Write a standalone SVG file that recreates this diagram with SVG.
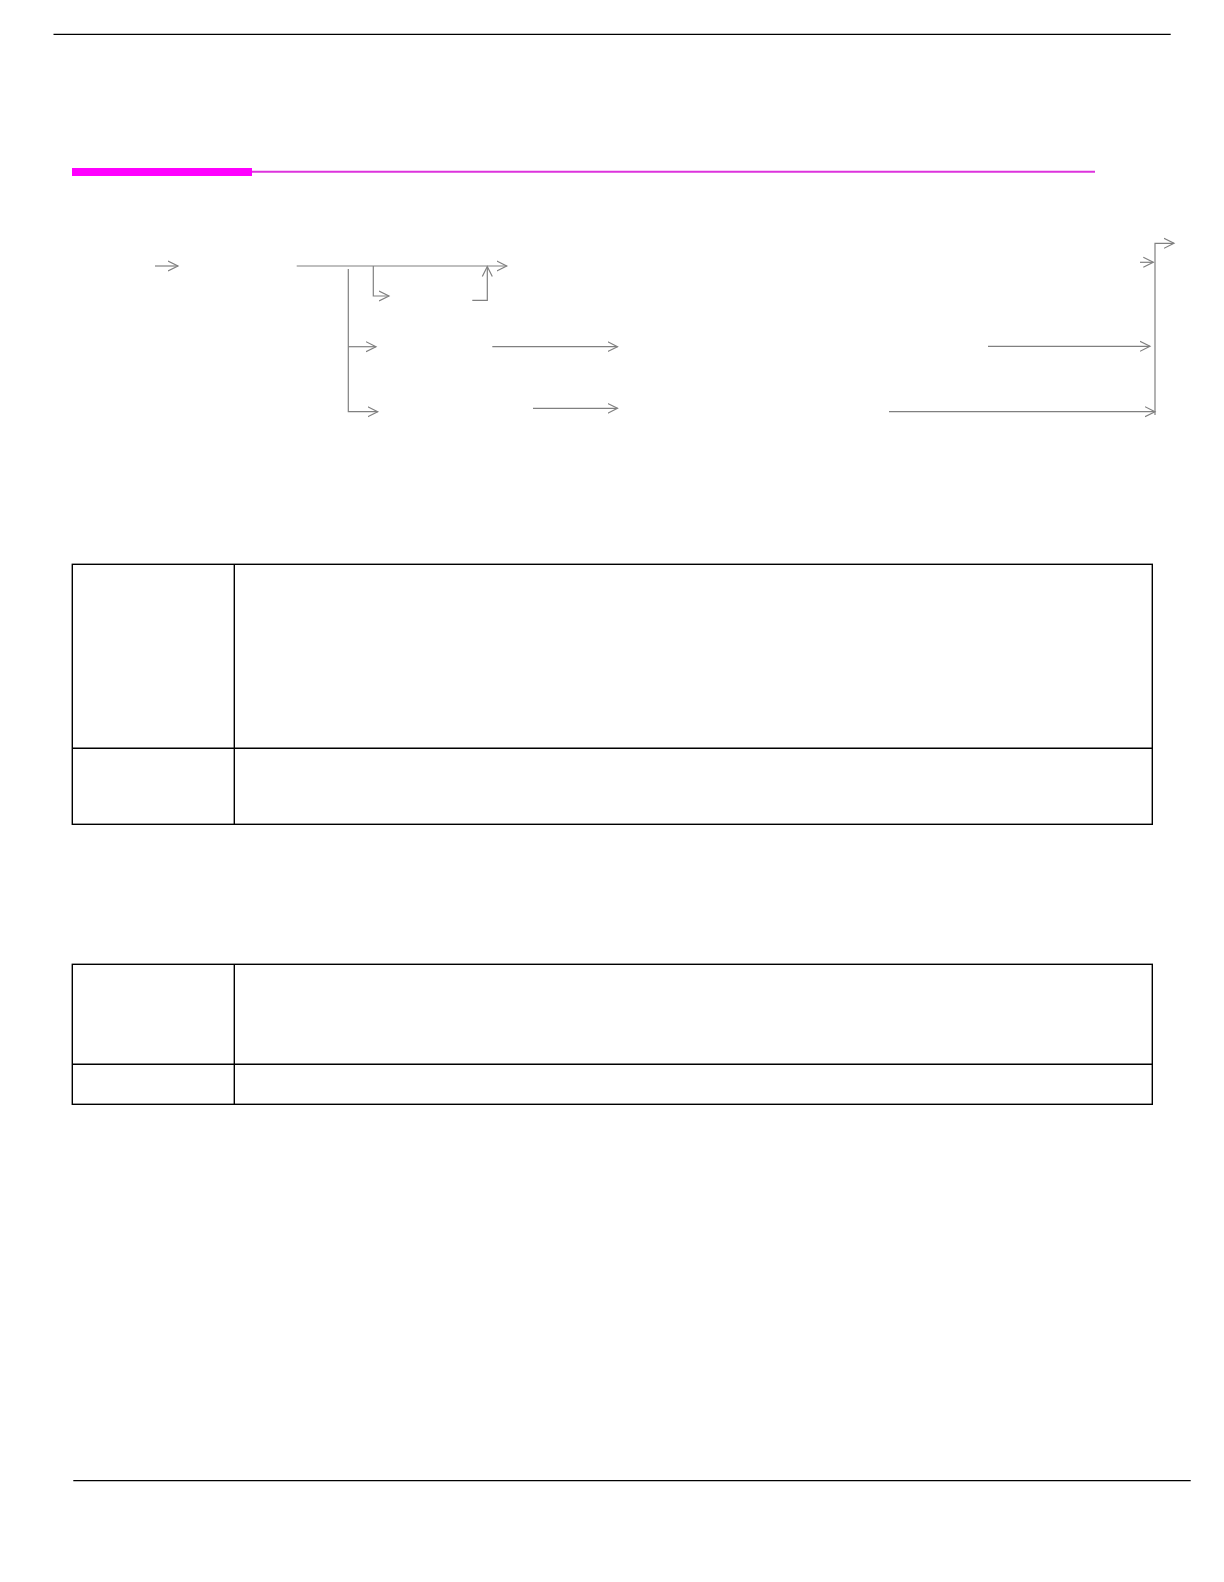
<svg xmlns="http://www.w3.org/2000/svg" width="1224" height="1582" viewBox="0 0 1224 1582">
<style>
.rule{stroke:#000;stroke-width:1.3;fill:none}
.conn{stroke:#808080;stroke-width:1.2;fill:none}
.tbl{stroke:#000;stroke-width:1.4;fill:none}
</style>
<defs>
<marker id="arr" markerUnits="userSpaceOnUse" markerWidth="12" markerHeight="12" refX="10" refY="5" orient="auto" viewBox="0 0 12 10">
<path d="M0,0 L10,5 L0,10" fill="none" stroke="#808080" stroke-width="1.2"/>
</marker>
</defs>
<rect width="1224" height="1582" fill="#fff"/>
<g id="header">
<line class="rule" x1="53.5" y1="34.3" x2="1170.7" y2="34.3"/>
<rect x="72" y="168" width="180" height="8" fill="#ff00ff"/>
<line x1="252" y1="171.8" x2="1095" y2="171.8" stroke="#dd33dd" stroke-width="2"/>
</g>
<g id="connectors">
<line class="conn" x1="155" y1="266" x2="178" y2="266" marker-end="url(#arr)"/>
<line class="conn" x1="296.7" y1="266" x2="506.7" y2="266" marker-end="url(#arr)"/>
<polyline class="conn" points="348.3,269 348.3,411.7 377.7,411.7" marker-end="url(#arr)"/>
<line class="conn" x1="348.3" y1="346.7" x2="376" y2="346.7" marker-end="url(#arr)"/>
<polyline class="conn" points="373.3,266 373.3,296 389,296" marker-end="url(#arr)"/>
<polyline class="conn" points="472.3,300.3 487.3,300.3 487.3,266.5" marker-end="url(#arr)"/>
<line class="conn" x1="492.3" y1="346.7" x2="617.5" y2="346.7" marker-end="url(#arr)"/>
<line class="conn" x1="533" y1="408.3" x2="617.5" y2="408.3" marker-end="url(#arr)"/>
<line class="conn" x1="988" y1="346.3" x2="1150" y2="346.3" marker-end="url(#arr)"/>
<line class="conn" x1="889" y1="411.7" x2="1155" y2="411.7" marker-end="url(#arr)"/>
<line class="conn" x1="1140" y1="262.3" x2="1153.3" y2="262.3" marker-end="url(#arr)"/>
<polyline class="conn" points="1155,415 1155,243.3 1174,243.3" marker-end="url(#arr)"/>
</g>
<g id="table1">
<rect class="tbl" x="72.3" y="564.3" width="1080" height="260"/>
<line class="tbl" x1="234.3" y1="564.3" x2="234.3" y2="824.3"/>
<line class="tbl" x1="72.3" y1="748.3" x2="1152.3" y2="748.3"/>
</g>
<g id="table2">
<rect class="tbl" x="72.3" y="964.3" width="1080" height="140"/>
<line class="tbl" x1="234.3" y1="964.3" x2="234.3" y2="1104.3"/>
<line class="tbl" x1="72.3" y1="1064.3" x2="1152.3" y2="1064.3"/>
</g>
<g id="footer">
<line class="rule" x1="73.3" y1="1480.7" x2="1190.7" y2="1480.7"/>
</g>
</svg>
